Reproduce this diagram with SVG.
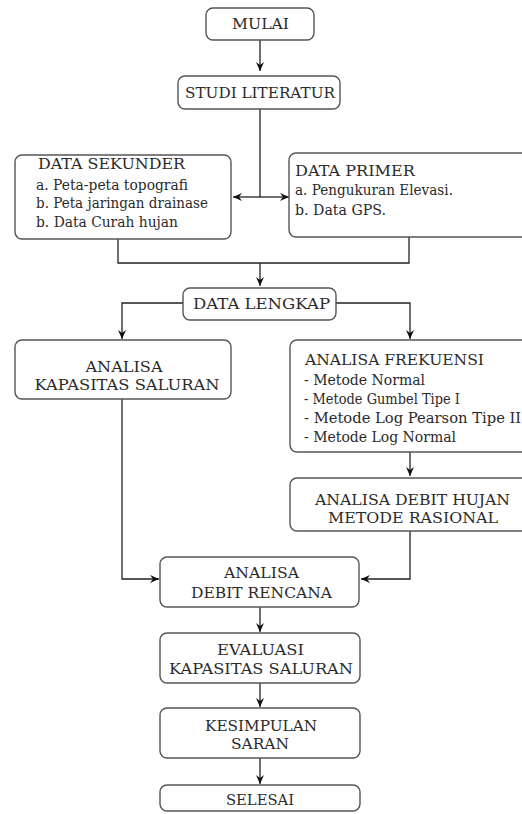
<svg xmlns="http://www.w3.org/2000/svg" width="522" height="814" viewBox="0 0 522 814">
<style>
.box{fill:#fff;stroke:#555;stroke-width:1.4}
.t{font-family:"DejaVu Serif","Liberation Serif",serif;font-size:14px;fill:#2a2a2a}
.c{text-anchor:middle}
.ln{fill:none;stroke:#222;stroke-width:1.3}
</style>
<defs>
<marker id="ah" markerWidth="10" markerHeight="10" refX="9" refY="5" orient="auto" markerUnits="userSpaceOnUse">
<path d="M0,1 L9,5 L0,9 L3,5 Z" fill="#111"/>
</marker>
</defs>
<rect width="522" height="814" fill="#fff"/>
<g id="connectors">
<path class="ln" d="M260,40 V71" marker-end="url(#ah)"/>
<path class="ln" d="M260,109 V197"/>
<path class="ln" d="M260,197 H233" marker-end="url(#ah)"/>
<path class="ln" d="M260,197 H289" marker-end="url(#ah)"/>
<path class="ln" d="M118,239 V263 H409 V237"/>
<path class="ln" d="M260,263 V286" marker-end="url(#ah)"/>
<path class="ln" d="M183,303 H122 V339" marker-end="url(#ah)"/>
<path class="ln" d="M336,303 H410 V339" marker-end="url(#ah)"/>
<path class="ln" d="M410,452 V476" marker-end="url(#ah)"/>
<path class="ln" d="M122,399 V579 H159" marker-end="url(#ah)"/>
<path class="ln" d="M410,531 V579 H361" marker-end="url(#ah)"/>
<path class="ln" d="M260,607 V632" marker-end="url(#ah)"/>
<path class="ln" d="M260,683 V707" marker-end="url(#ah)"/>
<path class="ln" d="M260,758 V784" marker-end="url(#ah)"/>
</g>
<g id="mulai"><rect class="box" x="206" y="8" width="108" height="32" rx="7"/><text class="t c" x="260.5" y="29" textLength="57" lengthAdjust="spacingAndGlyphs">MULAI</text></g>
<g id="studi"><rect class="box" x="178" y="76" width="162" height="33" rx="7"/><text class="t c" x="260" y="98" textLength="150" lengthAdjust="spacingAndGlyphs">STUDI LITERATUR</text></g>
<g id="sekunder"><rect class="box" x="15" y="155" width="216" height="84" rx="7"/>
<text class="t" x="38" y="169" textLength="147" lengthAdjust="spacingAndGlyphs">DATA SEKUNDER</text>
<text class="t" x="36" y="190" textLength="152" lengthAdjust="spacingAndGlyphs">a. Peta-peta topografi</text>
<text class="t" x="36" y="208" textLength="172" lengthAdjust="spacingAndGlyphs">b. Peta jaringan drainase</text>
<text class="t" x="36" y="227" textLength="142" lengthAdjust="spacingAndGlyphs">b. Data Curah hujan</text></g>
<g id="primer"><rect class="box" x="289" y="153" width="245" height="84" rx="7"/>
<text class="t" x="295" y="176" textLength="120" lengthAdjust="spacingAndGlyphs">DATA PRIMER</text>
<text class="t" x="295" y="195" textLength="158" lengthAdjust="spacingAndGlyphs">a. Pengukuran Elevasi.</text>
<text class="t" x="295" y="215" textLength="91" lengthAdjust="spacingAndGlyphs">b. Data GPS.</text></g>
<g id="lengkap"><rect class="box" x="183" y="288" width="153" height="32" rx="7"/><text class="t c" x="261.5" y="309" textLength="137" lengthAdjust="spacingAndGlyphs">DATA LENGKAP</text></g>
<g id="kapasitas"><rect class="box" x="15" y="340" width="216" height="59" rx="7"/>
<text class="t c" x="124" y="372" textLength="77" lengthAdjust="spacingAndGlyphs">ANALISA</text><text class="t c" x="127" y="390" textLength="185" lengthAdjust="spacingAndGlyphs">KAPASITAS SALURAN</text></g>
<g id="frekuensi"><rect class="box" x="290" y="340" width="244" height="112" rx="7"/>
<text class="t" x="305" y="365" textLength="179" lengthAdjust="spacingAndGlyphs">ANALISA FREKUENSI</text>
<text class="t" x="304" y="385" textLength="121" lengthAdjust="spacingAndGlyphs">- Metode Normal</text>
<text class="t" x="304" y="404" textLength="156" lengthAdjust="spacingAndGlyphs">- Metode Gumbel Tipe I</text>
<text class="t" x="304" y="423" textLength="223" lengthAdjust="spacingAndGlyphs">- Metode Log Pearson Tipe III</text>
<text class="t" x="304" y="442" textLength="152" lengthAdjust="spacingAndGlyphs">- Metode Log Normal</text></g>
<g id="hujan"><rect class="box" x="290" y="478" width="244" height="53" rx="7"/>
<text class="t c" x="412.5" y="505" textLength="195" lengthAdjust="spacingAndGlyphs">ANALISA DEBIT HUJAN</text><text class="t c" x="413" y="523" textLength="170" lengthAdjust="spacingAndGlyphs">METODE RASIONAL</text></g>
<g id="rencana"><rect class="box" x="160" y="557" width="199" height="50" rx="7"/>
<text class="t c" x="261.5" y="578" textLength="75" lengthAdjust="spacingAndGlyphs">ANALISA</text><text class="t c" x="261.5" y="598" textLength="141" lengthAdjust="spacingAndGlyphs">DEBIT RENCANA</text></g>
<g id="evaluasi"><rect class="box" x="160" y="633" width="200" height="50" rx="7"/>
<text class="t c" x="260.5" y="655" textLength="87" lengthAdjust="spacingAndGlyphs">EVALUASI</text><text class="t c" x="261" y="674" textLength="184" lengthAdjust="spacingAndGlyphs">KAPASITAS SALURAN</text></g>
<g id="kesimpulan"><rect class="box" x="160" y="708" width="200" height="50" rx="7"/>
<text class="t c" x="261" y="731" textLength="112" lengthAdjust="spacingAndGlyphs">KESIMPULAN</text><text class="t c" x="260" y="749" textLength="58" lengthAdjust="spacingAndGlyphs">SARAN</text></g>
<g id="selesai"><rect class="box" x="160" y="785" width="200" height="26" rx="7"/><text class="t c" x="260" y="805" textLength="68" lengthAdjust="spacingAndGlyphs">SELESAI</text></g>
</svg>
